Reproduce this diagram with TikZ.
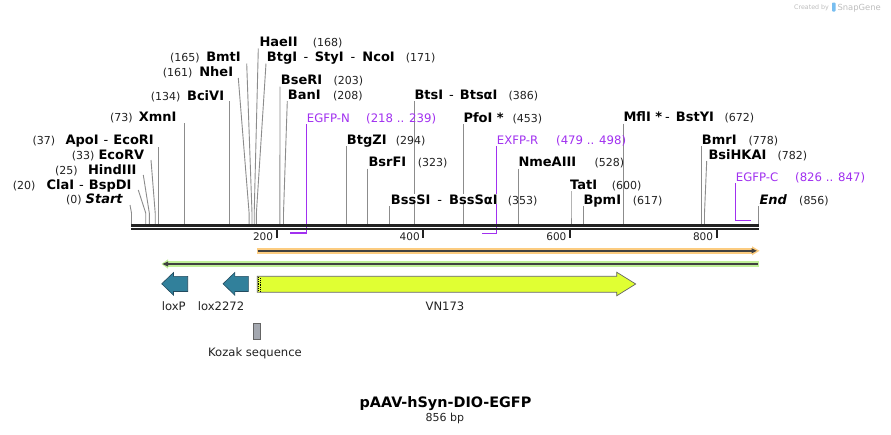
\documentclass[tikz,border=0pt]{standalone}
\usepackage{fontspec}
\setmainfont{DejaVu Sans}
\usetikzlibrary{arrows.meta}
\definecolor{numgray}{RGB}{34,34,34}
\definecolor{cutgray}{RGB}{140,140,140}
\definecolor{prim}{RGB}{161,48,240}
\definecolor{bbcol}{RGB}{34,34,34}
\definecolor{orangeL}{RGB}{252,204,128}
\definecolor{greenL}{RGB}{192,240,152}
\definecolor{darkln}{RGB}{64,64,64}
\definecolor{tealF}{RGB}{49,128,155}
\definecolor{tealD}{RGB}{35,75,95}
\definecolor{yellowF}{RGB}{224,255,51}
\definecolor{featD}{RGB}{100,100,100}
\definecolor{kozakF}{RGB}{164,168,176}
\definecolor{wmgray}{RGB}{190,190,190}
\definecolor{wmblue}{RGB}{120,190,240}
\tikzset{
  ename/.style={anchor=base west, inner sep=0pt, font=\fontsize{13}{15}\selectfont\bfseries},
  enameR/.style={ename, anchor=base east},
  enum/.style={anchor=base west, inner sep=0pt, font=\fontsize{11}{13}\selectfont, text=numgray},
  plab/.style={anchor=base west, inner sep=0pt, font=\fontsize{11.7}{13}\selectfont, text=prim},
  cutln/.style={draw=cutgray, line width=0.9pt},
  primln/.style={draw=prim, line width=1.4pt},
  tickln/.style={draw=bbcol, line width=2pt},
  ticklab/.style={anchor=base east, inner sep=0pt, font=\fontsize{10.5}{12}\selectfont, text=numgray},
  flab/.style={anchor=base, inner sep=0pt, font=\fontsize{11.6}{13}\selectfont, text=numgray},
  tealarrow/.style={fill=tealF, draw=tealD, line width=0.6pt},
}
\begin{document}
\begin{tikzpicture}[x=1pt,y=-1pt]
\useasboundingbox[fill=white] (0,0) rectangle (891,434);

% watermark
\node[anchor=base west, inner sep=0pt, text=wmgray, font=\fontsize{6.3}{7}\selectfont] (wm1) at (794,9.5) {Created by};
\fill[wmblue, rounded corners=0.8pt] (832,2.5) rectangle (835.5,11.5);
\node[anchor=base west, inner sep=0pt, text=wmgray, font=\fontsize{8.4}{9}\selectfont] (wm2) at (837.3,10) {SnapGene};

% enzyme cut lines: key / top x / top y / cut x
\foreach \k/\tx/\ty/\cx in {
  Start/130/205/131.5, ClaI/138.3/190/145.7, HindIII/143.3/175/149.3,
  EcoRV/151/160/155.2, EcoRI/158.1/147/158.1, XmnI/184.5/123/184.5,
  BciVI/229.3/101/229.3, NheI/238.3/78/249.1, BmtI/246.7/63.5/252,
  HaeII/258.3/48.5/254.2, BtgI/266/63.5/256.4, BseRI/280/86.5/279.9,
  BanI/287.3/101/283.5, BtgZI/346.6/146/346.6, BsrFI/367.9/168.5/367.9,
  BssSI/389.9/206/389.9, BtsI/414.1/101/414.1, PfoI/463.2/124/463.2,
  NmeAIII/518.2/168.5/518.2, TatI/571/191/571, BpmI/583.5/206/583.5,
  MflI/623.8/123.5/623.8, BmrI/701.5/146/701.5, BsiHKAI/706.7/161/704.5,
  End/758.7/206/758.7}{
  \coordinate (t\k) at (\tx,\ty);
  \coordinate (c\k) at (\cx,224);
  \draw[cutln] (t\k) -- (\cx,213) -- (c\k);
}

% primer brackets
\coordinate (tEGFPN) at (306.3,124);
\coordinate (bEGFPN) at (306.3,232.8);
\coordinate (eEGFPN) at (290.3,232.8);
\draw[primln] (tEGFPN) -- (bEGFPN) -- (eEGFPN);
\coordinate (tEXFPR) at (496.2,146);
\coordinate (bEXFPR) at (496.2,233.3);
\coordinate (eEXFPR) at (482.2,233.3);
\draw[primln] (tEXFPR) -- (bEXFPR) -- (eEXFPR);
\coordinate (tEGFPC) at (735.7,183);
\coordinate (bEGFPC) at (735.7,220.5);
\coordinate (eEGFPC) at (750.7,220.5);
\draw[primln] (tEGFPC) -- (bEGFPC) -- (eEGFPC);

% backbone
\coordinate (bbL) at (131,225.5);
\coordinate (bbR) at (759.3,225.5);
\coordinate (bbL2) at (131,229.2);
\coordinate (bbR2) at (759.3,229.2);
\draw[bbcol, line width=2.6pt] (bbL) -- (bbR);
\draw[bbcol, line width=2.3pt] (bbL2) -- (bbR2);

% ticks
\foreach \tk/\tv in {276.7/200, 423.3/400, 570/600, 716.7/800}{
  \draw[tickln] (\tk,230) -- (\tk,238);
  \node[ticklab] (tl\tv) at (\tk-3.4,240.7) {\tv};
}

% left (right-aligned) enzyme labels: key / name end x / baseline / text / number x / number
\foreach \k/\px/\py/\t/\nx/\nt in {
  Start/123.3/203.3/{\textit{Start}}/66/(0),
  ClaI/131.7/189.3/{ClaI\hspace{5pt}{\mdseries -}\hspace{5pt}BspDI}/12.7/(20),
  HindIII/136.7/174/{HindIII}/55/(25),
  EcoRV/144.3/159.7/{EcoRV}/71.7/(33),
  EcoRI/154/144.3/{ApoI\hspace{5pt}{\mdseries -}\hspace{5pt}EcoRI}/32.3/(37),
  XmnI/176.7/121.7/{XmnI}/110/(73),
  BciVI/224.3/100/{BciVI}/150.7/(134),
  NheI/233.3/76.7/{NheI}/162.7/(161),
  BmtI/241/61/{BmtI}/170/(165)}{
  \node[enameR] (n\k) at (\px,\py) {\t};
  \node[enum] (p\k) at (\nx,\py) {\nt};
}

% right (left-aligned) enzyme labels
\foreach \k/\px/\py/\t/\nx/\nt in {
  HaeII/259.3/46/{HaeII}/312.7/(168),
  BtgI/266.7/61/{BtgI\hspace{6.5pt}{\mdseries -}\hspace{6.5pt}StyI\hspace{7pt}{\mdseries -}\hspace{7pt}NcoI}/405.7/(171),
  BseRI/280.7/84.3/{BseRI}/333.3/(203),
  BanI/287.7/99.3/{BanI}/333/(208),
  BtgZI/346.7/144.3/{BtgZI}/395.7/(294),
  BsrFI/368.3/166.7/{BsrFI}/417.7/(323),
  BtsI/414.3/99.3/{BtsI\hspace{6pt}{\mdseries -}\hspace{6pt}BtsαI}/508.3/(386),
  PfoI/463.3/122/{PfoI *}/512.3/(453),
  NmeAIII/518.3/166.3/{NmeAIII}/594.3/(528),
  TatI/570/189.3/{TatI}/611.7/(600),
  BpmI/583.3/204/{BpmI}/632.7/(617),
  MflI/623.3/121.5/{MflI *\hspace{3pt}{\mdseries -}\hspace{6pt}BstYI}/724.3/(672),
  BmrI/701.7/144/{BmrI}/748.3/(778),
  BsiHKAI/708.3/159.3/{BsiHKAI}/777.3/(782),
  End/759.3/204/{\textit{End}}/799/(856)}{
  \node[ename] (n\k) at (\px,\py) {\t};
  \node[enum] (p\k) at (\nx,\py) {\nt};
}
\node[ename, fill=white] (nBssSI) at (390.7,204) {BssSI\hspace{7pt}{\mdseries -}\hspace{7pt}BssSαI};
\node[enum] (pBssSI) at (507.7,204) {(353)};

% primer labels
\node[plab] (nEGFPN) at (306.7,122) {EGFP-N};
\node[plab] (pEGFPN) at (366,122) {(218 .. 239)};
\node[plab] (nEXFPR) at (496.7,144.3) {EXFP-R};
\node[plab] (pEXFPR) at (556,144.3) {(479 .. 498)};
\node[plab] (nEGFPC) at (735.7,181.7) {EGFP-C};
\node[plab] (pEGFPC) at (795,181.7) {(826 .. 847)};

% orange feature bar (forward)
\fill[orangeL] (256.7,248) rectangle (753,253.6);
\fill[orangeL] (752,246.3) -- (759.5,250.8) -- (752,255.3) -- cycle;
\draw[darkln, line width=1.6pt] (257.7,250.8) -- (753,250.8);
\fill[darkln] (751.5,248.2) -- (756.8,250.8) -- (751.5,253.4) -- cycle;

% green feature bar (reverse)
\fill[greenL] (167,261.3) rectangle (759.3,266.7);
\fill[greenL] (161.5,264) -- (168,259.3) -- (168,268.7) -- cycle;
\draw[darkln, line width=1.6pt] (167,264) -- (757.7,264);
\fill[darkln] (162.7,264) -- (168,261.4) -- (168,266.6) -- cycle;

% loxP arrow
\draw[tealarrow] (161.7,283.8) -- (173.5,272.5) -- (173.5,276.3) -- (187.7,276.3)
  -- (187.7,291.5) -- (173.5,291.5) -- (173.5,295.2) -- cycle;
\node[flab] (loxP) at (173.7,310) {loxP};
% lox2272 arrow
\draw[tealarrow] (223,283.8) -- (234.8,272.5) -- (234.8,276.3) -- (248.3,276.3)
  -- (248.3,291.5) -- (234.8,291.5) -- (234.8,295.2) -- cycle;
\node[flab] (lox2272) at (221,310) {lox2272};

% VN173 arrow
\draw[fill=yellowF, draw=featD, line width=0.7pt] (257.3,276.3) -- (616.7,276.3) -- (616.7,272.2)
  -- (635.7,284) -- (616.7,295.8) -- (616.7,292.2) -- (257.3,292.2) -- cycle;
\draw[black, line width=0.9pt, dash pattern=on 0.9pt off 0.9pt] (258.7,277.2) -- (258.7,291.5);
\draw[black, line width=0.9pt, dash pattern=on 0.9pt off 0.9pt] (260.5,278.1) -- (260.5,291.5);
\node[flab] (VN173) at (445,310) {VN173};

% Kozak
\draw[fill=kozakF, draw=featD, line width=0.6pt] (253.3,323.3) rectangle (260.7,339.3);
\node[flab] (kozak) at (255,356.7) {Kozak sequence};

% title
\node[anchor=base, inner sep=0pt, font=\fontsize{14.4}{16}\selectfont\bfseries] (title) at (445.5,407.3) {pAAV-hSyn-DIO-EGFP};
\node[anchor=base, inner sep=0pt, font=\fontsize{11}{13}\selectfont, text=numgray] (size) at (444.8,421.7) {856 bp};
\end{tikzpicture}
\end{document}
